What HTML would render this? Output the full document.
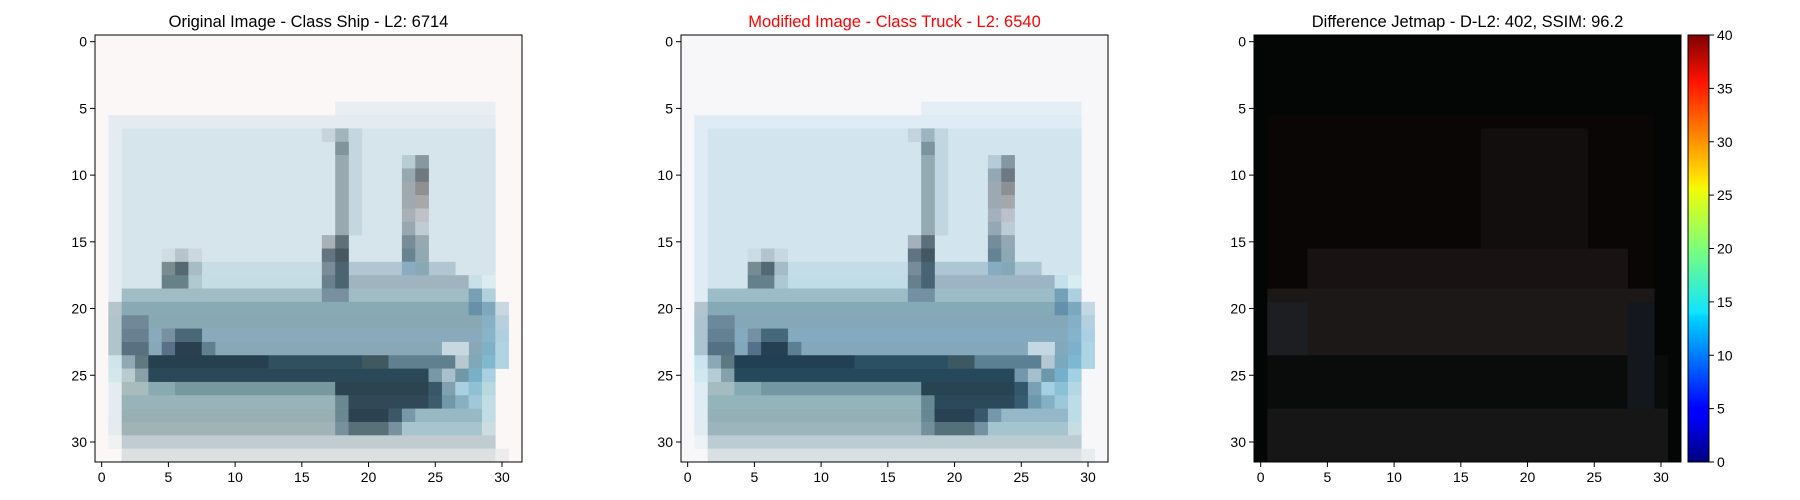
<!DOCTYPE html>
<html><head><meta charset="utf-8"><style>
html,body{margin:0;padding:0;background:#fff;}
svg{display:block;font-family:"Liberation Sans","DejaVu Sans",sans-serif;}
</style></head><body>
<svg id="fig" width="1800" height="500" viewBox="0 0 1800 500"></svg>
<script>
// Pixel region data for the 32x32 ship image: [row0,row1,col0,col1,color]
const shipRegions = [
[0,31,0,31,'#fbf7f6'],
[5,5,18,29,'#e8eef2'],
[6,29,1,29,'#e4ecf2'],
[7,18,2,29,'#d6e5eb'],
[7,7,17,17,'#c8d4dc'],[7,7,18,18,'#a0b4bc'],[7,14,19,19,'#c4d6de'],
[8,8,18,18,'#80949c'],[9,14,18,18,'#98aab0'],
[9,9,23,23,'#b8ccd4'],[9,9,24,24,'#8898a0'],
[10,10,23,23,'#98a8b0'],[10,10,24,24,'#707880'],
[11,11,23,23,'#a0a8b0'],[11,11,24,24,'#909090'],
[12,12,23,23,'#a0a8b0'],[12,12,24,24,'#a8a8a8'],
[13,13,23,23,'#a8b0b8'],[13,13,24,24,'#c0c0c8'],
[14,14,23,23,'#98a8b0'],[14,14,24,24,'#c0ccd4'],
[15,15,17,17,'#a8b0b8'],[15,15,18,18,'#607078'],[15,15,23,23,'#788c98'],[15,15,24,24,'#98a8b0'],
[16,16,5,5,'#d0dce4'],[16,16,6,6,'#b8c4cc'],[16,16,7,7,'#ccd8e0'],
[16,16,17,17,'#647480'],[16,16,18,18,'#485860'],[16,16,23,23,'#688490'],[16,16,24,24,'#90a8b0'],
[17,17,8,16,'#c8dce4'],[17,17,19,26,'#b0c6d0'],
[17,17,5,5,'#7a8c90'],[17,17,6,6,'#566870'],[17,17,7,7,'#a8bcc4'],
[17,17,17,17,'#7a8c98'],[17,17,18,18,'#4c6470'],[17,17,23,23,'#8aacc0'],[17,17,24,24,'#88a8b4'],
[18,18,8,16,'#c4dce4'],[18,18,19,27,'#a0b4c0'],[18,18,28,28,'#c8e0e8'],[18,18,29,29,'#dcecf0'],
[18,18,5,6,'#688088'],[18,18,7,7,'#b0c8d0'],[18,18,17,17,'#6a808c'],[18,18,18,18,'#4a6470'],
[19,19,2,28,'#a0bcc4'],[19,19,17,18,'#7890a0'],[19,19,28,28,'#78a0b4'],[19,19,29,29,'#b0d0dc'],
[20,20,1,1,'#b8c4cc'],[20,20,2,28,'#88aab4'],[20,20,28,28,'#6890a8'],[20,20,29,29,'#80a8bc'],[20,20,30,30,'#c8d8e0'],
[21,21,1,1,'#b0c4cc'],[21,21,2,28,'#88a8b4'],[21,21,2,3,'#708898'],[21,21,29,29,'#88b0c4'],[21,21,30,30,'#b8d0dc'],
[22,22,1,1,'#b0c4cc'],[22,22,2,28,'#88aabc'],[22,22,2,3,'#688090'],[22,22,5,5,'#7890a0'],[22,22,6,7,'#4a6878'],[22,22,29,29,'#88b4c8'],[22,22,30,30,'#b0d0e0'],
[23,23,1,1,'#b0c4cc'],[23,23,2,28,'#88a8b8'],[23,23,2,3,'#587080'],[23,23,5,5,'#587088'],[23,23,6,7,'#2a4050'],[23,23,8,8,'#608090'],[23,23,26,27,'#c8d8e0'],[23,23,29,29,'#80b0c8'],[23,23,30,30,'#b0d4e0'],
[24,24,1,1,'#d0e4ec'],[24,24,2,2,'#90a8b4'],[24,24,3,3,'#607880'],[24,24,4,12,'#264050'],[24,24,13,19,'#305060'],[24,24,20,21,'#405860'],[24,24,22,26,'#608090'],[24,24,27,27,'#b8c8d0'],[24,24,28,28,'#80a8b8'],[24,24,29,29,'#80b8d0'],[24,24,30,30,'#b0d4e0'],
[25,25,1,1,'#d4e8ec'],[25,25,2,2,'#b8ccd0'],[25,25,3,3,'#88a0a8'],[25,25,4,24,'#2a4858'],[25,25,25,25,'#7898a8'],[25,25,26,26,'#a8c0cc'],[25,25,27,27,'#7098a8'],[25,25,28,28,'#78b0c8'],[25,25,29,29,'#a8d0e0'],
[26,26,2,3,'#a8bcbc'],[26,26,4,5,'#88aab0'],[26,26,6,17,'#7898a0'],[26,26,18,24,'#2c4450'],[26,26,25,25,'#385868'],[26,26,26,26,'#80a0b0'],[26,26,27,27,'#a8d0e0'],[26,26,28,28,'#90c0d4'],[26,26,29,29,'#b8d8e0'],
[27,27,2,17,'#98b4b8'],[27,27,18,18,'#6a8890'],[27,27,19,24,'#304858'],[27,27,25,25,'#3c5c6c'],[27,27,26,26,'#7098a8'],[27,27,27,27,'#88b0c0'],[27,27,28,28,'#a0c8d8'],[27,27,29,29,'#c0dce4'],
[28,28,2,17,'#98b0b4'],[28,28,18,18,'#6a8890'],[28,28,19,21,'#2c4250'],[28,28,22,22,'#3c5868'],[28,28,23,23,'#7898a8'],[28,28,24,28,'#98b8c4'],[28,28,29,29,'#c0dce4'],
[29,29,1,1,'#e4ecee'],[29,29,2,17,'#a0b4b8'],[29,29,18,18,'#78909c'],[29,29,19,21,'#587078'],[29,29,22,22,'#7890a0'],[29,29,23,28,'#a8c4cc'],[29,29,29,29,'#ccdce0'],
[30,30,1,1,'#f0f2f2'],[30,30,2,29,'#c0ccd0'],
[31,31,2,29,'#dce0e0'],[31,31,30,30,'#ececec']
];
// Difference heatmap regions
const diffRegions = [
[0,31,0,31,'#040505'],
[6,18,1,29,'#0a0606'],
[7,16,17,24,'#120e0e'],
[16,18,4,27,'#181212'],
[19,23,1,29,'#1c1818'],
[20,23,1,3,'#1c1e22'],
[24,27,1,30,'#0a0c0c'],
[28,31,1,30,'#161616'],
[20,27,28,29,'#14181c']
];
const xTicks = [0,5,10,15,20,25,30];
const yTicks = [0,5,10,15,20,25,30];
const cbTicks = [0,5,10,15,20,25,30,35,40];
const cbMax = 40;
const titles = ['Original Image - Class Ship - L2: 6714','Modified Image - Class Truck - L2: 6540','Difference Jetmap - D-L2: 402, SSIM: 96.2'];

const NS='http://www.w3.org/2000/svg';
const svg=document.getElementById('fig');
function mk(t,a,p){const e=document.createElementNS(NS,t);for(const k in a)e.setAttribute(k,a[k]);(p||svg).appendChild(e);return e;}
const axTop=35, size=427, N=32, cell=size/N;
const lefts=[95,681,1254];
function tint(hex){
  let r=parseInt(hex.substr(1,2),16),g=parseInt(hex.substr(3,2),16),b=parseInt(hex.substr(5,2),16);
  r=Math.max(0,r-4);b=Math.min(255,b+3);
  return 'rgb('+r+','+g+','+b+')';
}
function panel(i,regions,colorFn,titleColor){
  const L=lefts[i];
  const g=mk('g',{});
  
  
  regions.forEach(rg=>{
    const r=mk('rect',{x:L+rg[2]*cell,y:axTop+rg[0]*cell,width:(rg[3]-rg[2]+1)*cell+0.3,height:(rg[1]-rg[0]+1)*cell+0.3,fill:colorFn(rg[4])},g);
    
    
  });
  const fr=mk('rect',{x:L,y:axTop,width:size,height:size,fill:'none',stroke:'#000','stroke-width':1},g);
  
  
  xTicks.forEach(v=>{
    const x=L+(v+0.5)*cell;
    mk('line',{x1:x,x2:x,y1:axTop+size,y2:axTop+size+5,stroke:'#000'},g);
    const t=mk('text',{x:x,y:axTop+size+20,'text-anchor':'middle','font-size':14,fill:'#000'},g);
    t.textContent=v;
    
    
  });
  yTicks.forEach(v=>{
    const y=axTop+(v+0.5)*cell;
    mk('line',{x1:L-5,x2:L,y1:y,y2:y,stroke:'#000'},g);
    const t=mk('text',{x:L-8,y:y+5,'text-anchor':'end','font-size':14,fill:'#000'},g);
    t.textContent=v;
    
    
  });
  const tt=mk('text',{x:L+size/2,y:27,'text-anchor':'middle','font-size':16.5,fill:titleColor},g);
  tt.textContent=titles[i];
  
  
}
panel(0,shipRegions,c=>c,'#000');
panel(1,shipRegions,tint,'#ff0000');
panel(2,diffRegions,c=>c,'#000');

const defs=mk('defs',{});
const lg=mk('linearGradient',{id:'jet',x1:0,y1:1,x2:0,y2:0},defs);
[['0','#00007f'],['0.11','#0000ff'],['0.125','#0000ff'],['0.34','#00d4ff'],['0.35','#0fe4ff'],['0.5','#7cff79'],['0.64','#f1fc06'],['0.66','#ffe600'],['0.89','#ff1300'],['1','#7f0000']].forEach(s=>mk('stop',{offset:s[0],'stop-color':s[1]},lg));
const cbx=1688,cbw=21;
const cb=mk('rect',{x:cbx,y:axTop,width:cbw,height:size,fill:'url(#jet)',stroke:'#000','stroke-width':1});


cbTicks.forEach(v=>{
  const y=axTop+size-v/cbMax*size;
  mk('line',{x1:cbx+cbw,x2:cbx+cbw+5,y1:y,y2:y,stroke:'#000'});
  const t=mk('text',{x:cbx+cbw+8,y:y+5,'font-size':14,fill:'#000'});
  t.textContent=v;
  
  
});
</script>
</body></html>
